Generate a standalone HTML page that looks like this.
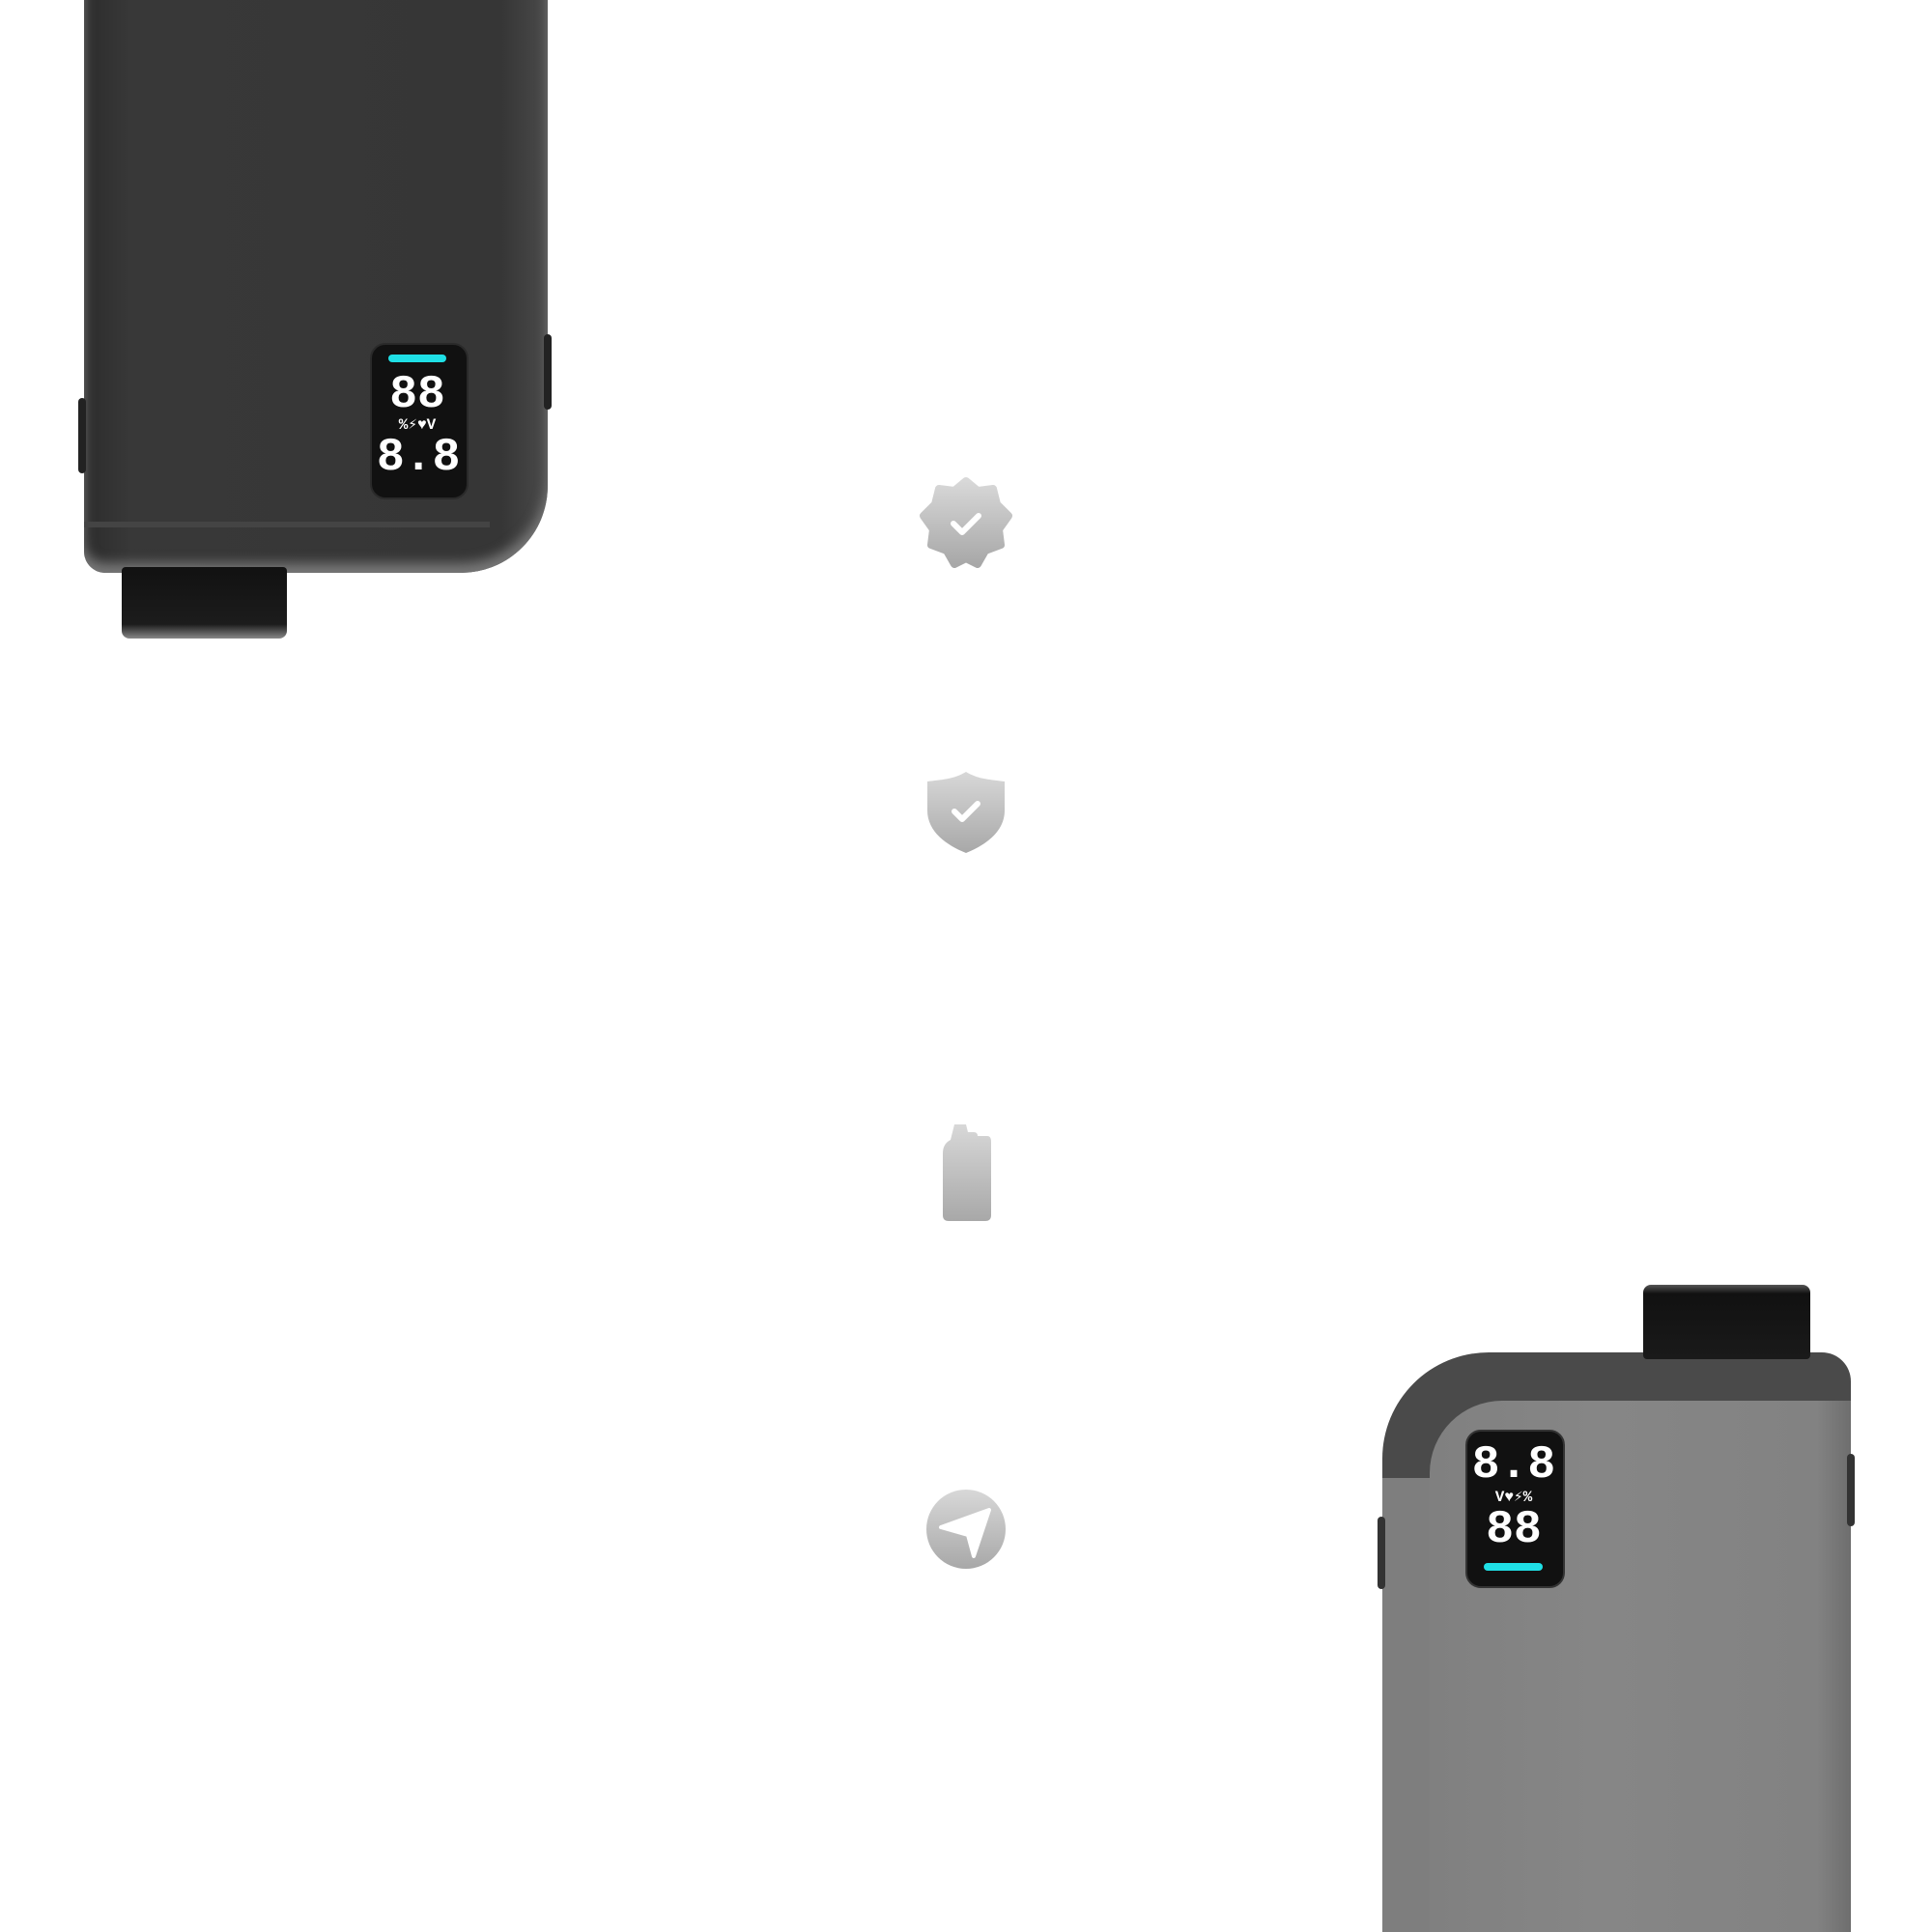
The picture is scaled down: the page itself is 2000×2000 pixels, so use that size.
<!DOCTYPE html>
<html><head><meta charset="utf-8"><style>
html,body{margin:0;padding:0;background:#fff;width:2000px;height:2000px;overflow:hidden;}
#w{width:2000px;height:2000px;position:relative;overflow:hidden;font-family:"Liberation Mono",monospace;}
.a{position:absolute;}
.lcd{color:#fff;font-weight:bold;text-align:center;line-height:1;}
</style></head><body><div id="w">
<!-- top-left device -->
<div class="a" style="left:87px;top:-40px;width:480px;height:633px;background:linear-gradient(90deg,#2c2c2c,#383838 10%,#363636 90%,#4a4a4a);border-radius:0 0 90px 22px;box-shadow:inset 0 -10px 12px #777;"></div>
<div class="a" style="left:87px;top:540px;width:420px;height:6px;background:#444;"></div>
<div class="a" style="left:81px;top:412px;width:8px;height:78px;background:#222;border-radius:4px;"></div>
<div class="a" style="left:563px;top:346px;width:8px;height:78px;background:#222;border-radius:4px;"></div>
<div class="a" style="left:126px;top:587px;width:171px;height:74px;background:linear-gradient(#111,#1c1c1c 80%,#888);border-radius:4px 4px 8px 8px;"></div>
<div class="a" style="left:383px;top:355px;width:98px;height:158px;background:#111;border:2px solid #2a2a2a;border-radius:16px;"></div>
<div class="a" style="left:402px;top:367px;width:60px;height:8px;background:#1fe0e6;border-radius:4px;"></div>
<div class="a lcd" style="left:390px;top:385px;width:84px;font-size:48px;">88</div>
<div class="a lcd" style="left:390px;top:432px;width:84px;font-size:16px;">%⚡♥V</div>
<div class="a lcd" style="left:390px;top:450px;width:84px;font-size:48px;">8.8</div>
<!-- icons -->
<svg class="a" style="left:950px;top:492px" width="100" height="100" viewBox="0 0 100 100">
<defs><linearGradient id="g" x1="0" y1="0" x2="0" y2="1"><stop offset="0" stop-color="#d8d8d8"/><stop offset="1" stop-color="#a8a8a8"/></linearGradient></defs>
<path d="M50 6 L62 16 L78 14 L82 30 L94 42 L84 56 L86 72 L70 78 L62 92 L50 86 L38 92 L30 78 L14 72 L16 56 L6 42 L18 30 L22 14 L38 16 Z" fill="url(#g)" stroke="url(#g)" stroke-width="8" stroke-linejoin="round"/>
<path d="M37 50 L46 59 L63 42" fill="none" stroke="#fff" stroke-width="6" stroke-linecap="round" stroke-linejoin="round"/></svg>
<svg class="a" style="left:958px;top:795px" width="84" height="90" viewBox="0 0 84 90">
<path d="M42 4 C55 12 68 12 82 14 L82 44 C82 66 62 80 42 88 C22 80 2 66 2 44 L2 14 C16 12 29 12 42 4Z" fill="url(#g)"/>
<path d="M30 45 L38 53 L54 37" fill="none" stroke="#fff" stroke-width="6" stroke-linecap="round" stroke-linejoin="round"/></svg>
<svg class="a" style="left:974px;top:1160px" width="54" height="106" viewBox="0 0 54 106">
<path d="M14 4 L26 4 L28 12 L34 12 Q38 12 38 16 L48 16 Q52 16 52 22 L52 98 Q52 104 46 104 L8 104 Q2 104 2 98 L2 34 Q2 24 10 20 Z" fill="url(#g)"/></svg>
<svg class="a" style="left:958px;top:1541px" width="84" height="84" viewBox="0 0 84 84">
<circle cx="42" cy="42" r="41" fill="url(#g)"/>
<path d="M16 40 L66 22 L50 70 L44 48 Z" fill="#fff" stroke="#fff" stroke-width="4" stroke-linejoin="round"/></svg>
<!-- bottom-right device -->
<div class="a" style="left:1431px;top:1400px;width:485px;height:600px;background:#4a4a4a;border-radius:110px 30px 0 0;"></div>
<div class="a" style="left:1431px;top:1530px;width:60px;height:470px;background:#7e7e7e;"></div>
<div class="a" style="left:1480px;top:1450px;width:436px;height:550px;background:linear-gradient(90deg,#808080,#868686 40%,#828282 92%,#6e6e6e);border-radius:75px 0 0 0;"></div>
<div class="a" style="left:1426px;top:1570px;width:8px;height:75px;background:#333;border-radius:4px;"></div>
<div class="a" style="left:1912px;top:1505px;width:8px;height:75px;background:#333;border-radius:4px;"></div>
<div class="a" style="left:1701px;top:1330px;width:173px;height:77px;background:linear-gradient(#555,#111 12%,#1a1a1a);border-radius:8px 8px 4px 4px;"></div>
<div class="a" style="left:1517px;top:1480px;width:99px;height:160px;background:#111;border:2px solid #333;border-radius:16px;"></div>
<div class="a lcd" style="left:1523px;top:1493px;width:88px;font-size:48px;">8.8</div>
<div class="a lcd" style="left:1523px;top:1542px;width:88px;font-size:16px;">V♥⚡%</div>
<div class="a lcd" style="left:1523px;top:1560px;width:88px;font-size:48px;">88</div>
<div class="a" style="left:1536px;top:1618px;width:61px;height:8px;background:#1fe0e6;border-radius:4px;"></div>
</div></body></html>
